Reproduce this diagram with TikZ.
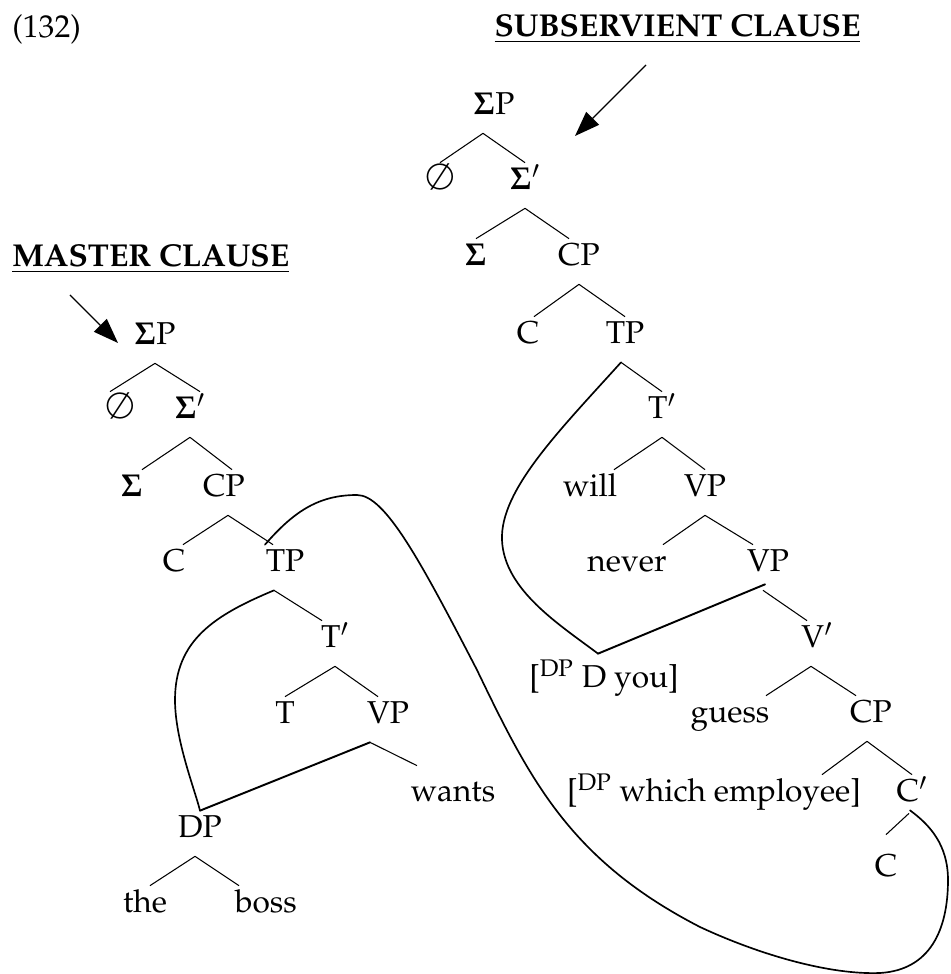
\documentclass[tikz,border=0pt]{standalone}
\usepackage[T1]{fontenc}
\usepackage{mathpazo}
\usepackage{tikz}
\usetikzlibrary{arrows.meta}

\newcommand{\nullcat}{\scalebox{1.15}{$\emptyset$}}
\newcommand{\sig}{$\mathbf{\Sigma}$}

\begin{document}
\begin{tikzpicture}[
  cat/.style={anchor=base, font=\fontsize{18}{22}\selectfont, inner xsep=0pt, inner ysep=0.1cm, text height=0.44cm, text depth=0.26cm},
  hdr/.style={anchor=base, font=\fontsize{18}{22}\selectfont, inner sep=0pt},
  branch/.style={draw=black, line width=0.6pt},
  moveline/.style={draw=black, line width=1.1pt, line cap=round},
  curveline/.style={draw=black, line width=0.95pt, line cap=round},
  pointer/.style={draw=black, line width=0.75pt, -{Triangle[length=0.5cm, width=0.36cm]}}
]
\useasboundingbox (0,0) rectangle (19.02,19.48);

\node[hdr, anchor=base west] (exnum) at (0.24, 18.72) {(132)};
\node[hdr] (subHead) at (13.55, 18.74) {\underline{\textbf{SUBSERVIENT CLAUSE}}};
\node[hdr, anchor=base west] (mastHead) at (0.24, 14.14) {\underline{\textbf{MASTER CLAUSE}}};

\node[cat] (sSP) at (9.88, 17.18) {\sig P};
\node[cat] (sNull) at (8.80, 15.68) {\nullcat};
\node[cat] (sSbar) at (10.50, 15.68) {\sig$'$};
\node[cat] (sSig) at (9.52, 14.16) {\sig};
\node[cat] (sCP) at (11.58, 14.16) {CP};
\node[cat] (sC) at (10.56, 12.60) {C};
\node[cat] (sTP) at (12.50, 12.60) {TP};
\node[cat] (sTbar) at (13.24, 11.10) {T$'$};
\node[cat] (sWill) at (11.80, 9.54) {will};
\node[cat] (sVP) at (14.10, 9.54) {VP};
\node[cat] (sNever) at (12.54, 8.04) {never};
\node[cat] (sVPb) at (15.36, 8.04) {VP};
\node[cat] (sVbar) at (16.34, 6.52) {V$'$};
\node[cat] (sDyou) at (12.08, 5.72) {[\textsuperscript{DP} D you]};
\node[cat] (sGuess) at (14.60, 5.02) {guess};
\node[cat] (sCPb) at (17.42, 5.02) {CP};
\node[cat] (sWhich) at (14.28, 3.44) {[\textsuperscript{DP} which employee]};
\node[cat] (sCbar) at (18.24, 3.44) {C$'$};
\node[cat] (sCb) at (17.72, 1.94) {C};

\node[cat] (mSP) at (3.10, 12.58) {\sig P};
\node[cat] (mNull) at (2.40, 11.10) {\nullcat};
\node[cat] (mSbar) at (3.80, 11.10) {\sig$'$};
\node[cat] (mSig) at (2.64, 9.54) {\sig};
\node[cat] (mCP) at (4.48, 9.54) {CP};
\node[cat] (mC) at (3.48, 8.04) {C};
\node[cat] (mTP) at (5.70, 8.04) {TP};
\node[cat] (mTbar) at (6.70, 6.52) {T$'$};
\node[cat] (mT) at (5.70, 5.00) {T};
\node[cat] (mVP) at (7.76, 5.00) {VP};
\node[cat] (mWants) at (9.06, 3.44) {wants};
\node[cat] (mDP) at (4.00, 2.72) {DP};
\node[cat] (mThe) at (2.90, 1.22) {the};
\node[cat] (mBoss) at (5.32, 1.22) {boss};

\coordinate (sTail) at (12.92, 18.18);
\coordinate (sTip) at (11.50, 16.76);
\coordinate (mTail) at (1.40, 13.58);
\coordinate (mTip) at (2.36, 12.62);
\draw[pointer] (sTail) -- (sTip);
\draw[pointer] (mTail) -- (mTip);

\draw[branch] ([xshift=-0.22cm]sSP.south) -- (sNull.north);
\draw[branch] ([xshift=-0.22cm]sSP.south) -- (sSbar.north);
\draw[branch] (sSbar.south) -- (sSig.north);
\draw[branch] (sSbar.south) -- ([xshift=-0.2cm]sCP.north);
\draw[branch] (sCP.south) -- ([xshift=0.12cm]sC.north);
\draw[branch] (sCP.south) -- (sTP.north);
\draw[branch] ([xshift=-0.08cm]sTP.south) -- (sTbar.north);
\draw[branch] (sTbar.south) -- ([xshift=0.48cm]sWill.north);
\draw[branch] (sTbar.south) -- (sVP.north);
\draw[branch] (sVP.south) -- ([xshift=0.72cm]sNever.north);
\draw[branch] (sVP.south) -- ([xshift=-0.3cm]sVPb.north);
\draw[branch] ([xshift=-0.1cm]sVPb.south) -- ([xshift=-0.2cm]sVbar.north);
\draw[moveline] ([xshift=-0.06cm,yshift=0.12cm]sVPb.south) -- ([xshift=-0.12cm,yshift=0.14cm]sDyou.north);
\draw[branch] ([xshift=-0.12cm]sVbar.south) -- ([xshift=0.72cm]sGuess.north);
\draw[branch] ([xshift=-0.12cm]sVbar.south) -- ([xshift=-0.3cm]sCPb.north);
\draw[branch] ([xshift=-0.08cm]sCPb.south) -- ([xshift=2.16cm]sWhich.north);
\draw[branch] ([xshift=-0.08cm]sCPb.south) -- (sCbar.north);
\draw[branch] ([xshift=-0.06cm,yshift=0.14cm]sCbar.south) -- ([yshift=0.3cm]sCb.north);

\draw[branch] (mSP.south) -- ([xshift=-0.2cm]mNull.north);
\draw[branch] (mSP.south) -- ([xshift=0.2cm]mSbar.north);
\draw[branch] (mSbar.south) -- ([xshift=0.2cm]mSig.north);
\draw[branch] (mSbar.south) -- ([xshift=0.16cm]mCP.north);
\draw[branch] ([xshift=0.08cm]mCP.south) -- ([xshift=0.18cm]mC.north);
\draw[branch] ([xshift=0.08cm]mCP.south) -- ([xshift=-0.24cm]mTP.north);
\draw[branch] ([xshift=-0.22cm]mTP.south) -- ([xshift=-0.26cm]mTbar.north);
\draw[branch] (mTbar.south) -- (mT.north);
\draw[branch] (mTbar.south) -- ([xshift=-0.2cm]mVP.north);
\draw[branch] ([xshift=-0.36cm]mVP.south) -- ([xshift=-0.72cm,yshift=0.18cm]mWants.north);
\draw[moveline] ([xshift=-0.36cm]mVP.south) -- (mDP.north);
\draw[branch] ([xshift=-0.1cm]mDP.south) -- ([xshift=0.1cm]mThe.north);
\draw[branch] ([xshift=-0.1cm]mDP.south) -- ([xshift=-0.54cm]mBoss.north);

\draw[curveline] ([xshift=-0.22cm]mTP.south) .. controls (4.30,7.18) and (3.50,6.68) .. (3.50,5.48)
  .. controls (3.50,4.68) and (3.90,3.68) .. (mDP.north);
\draw[curveline] ([xshift=-0.08cm]sTP.south) .. controls (11.20,10.88) and (10.00,9.68) .. (10.04,8.68)
  .. controls (10.08,7.68) and (11.20,6.98) .. ([xshift=-0.12cm,yshift=0.14cm]sDyou.north);
\draw[curveline] ([xshift=-0.4cm]mTP.north) .. controls (5.90,9.28) and (6.40,9.58) .. (7.14,9.58)
  .. controls (7.70,9.58) and (8.40,8.28) .. (9.54,6.08)
  .. controls (10.60,3.88) and (11.40,2.28) .. (14.00,0.94)
  .. controls (15.20,0.38) and (16.60,-0.02) .. (17.60,0.02)
  .. controls (18.60,0.08) and (18.96,0.88) .. (18.96,1.88)
  .. controls (18.96,2.58) and (18.60,2.98) .. ([xshift=-0.04cm,yshift=0.2cm]sCbar.south);

\end{tikzpicture}
\end{document}
